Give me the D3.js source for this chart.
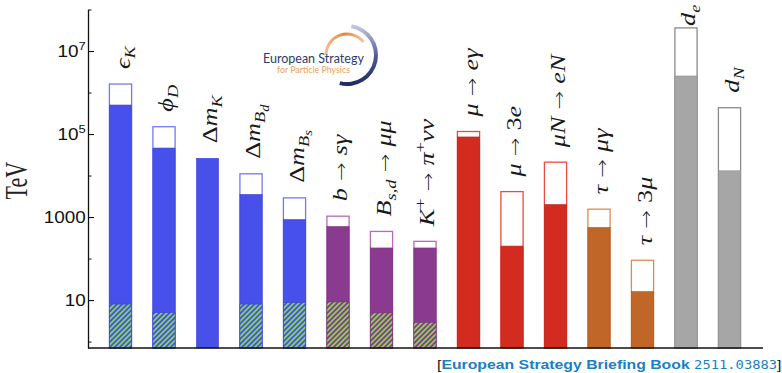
<!DOCTYPE html>
<html>
<head>
<meta charset="utf-8">
<script src="https://cdn.jsdelivr.net/npm/d3@7"></script>
<style>
  body { margin: 0; background: #fff; }
  svg { display: block; }
</style>
</head>
<body>
<div id="chart"></div>
<script>
// processes, left to right. each label is a list of [text, level, style]
// style: i = italic, r = roman, a = arrow
const AR = [" \u2192 ", "b", "a"];
const processes = [
  [["\u03F5", "b", "i"], ["K", "sub", "i"]],
  [["\u03D5", "b", "i"], ["D", "sub", "i"]],
  [["\u0394", "b", "r"], ["m", "b", "i"], ["K", "sub", "i"]],
  [["\u0394", "b", "r"], ["m", "b", "i"], ["B", "sub", "i"], ["d", "sub2", "i"]],
  [["\u0394", "b", "r"], ["m", "b", "i"], ["B", "sub", "i"], ["s", "sub2", "i"]],
  [["b", "b", "i"], AR, ["s\u03B3", "b", "i"]],
  [["B", "b", "i"], ["s,d", "sub", "i"], AR, ["\u03BC\u03BC", "b", "i"]],
  [["K", "b", "i"], ["+", "sup", "r"], AR, ["\u03C0", "b", "i"], ["+", "sup", "r"], ["\u03BD\u03BD", "b", "i"]],
  [["\u03BC", "b", "i"], AR, ["e\u03B3", "b", "i"]],
  [["\u03BC", "b", "i"], AR, ["3", "b", "r"], ["e", "b", "i"]],
  [["\u03BCN", "b", "i"], AR, ["eN", "b", "i"]],
  [["\u03C4", "b", "i"], AR, ["\u03BC\u03B3", "b", "i"]],
  [["\u03C4", "b", "i"], AR, ["3", "b", "r"], ["\u03BC", "b", "i"]],
  [["d", "b", "i"], ["e", "sub", "i"]],
  [["d", "b", "i"], ["N", "sub", "i"]]
];

const sector = ["K", "K", "K", "K", "K", "B", "B", "B", "mu", "mu", "mu", "tau", "tau", "edm", "edm"];

// scale probed in TeV: future reach (open box), present reach (filled), SM-like part (hatched)
const reachFuture = [1.6e6, 1.5e5, null, 1.1e4, 2.9e3, 1050, 450, 260, 1.15e5, 4100, 2.1e4, 1550, 91, 3.6e7, 4.3e5];
const reachNow    = [5e5, 4.6e4, 2.6e4, 3.5e3, 870, 590, 180, 180, 8.5e4, 200, 2000, 560, 16, 2.5e6, 1.3e4];
const reachSM     = [8, 5, null, 8, 8.7, 9, 4.9, 2.9, null, null, null, null, null, null, null];

const majorTicks = [10, 1000, 1e5, 1e7];
const majorTickLabels = [["10"], ["1000"], ["10", "5"], ["10", "7"]];
const minorTicks = [1, 100, 1e4, 1e6, 1e8];

const fillColor = { K: "#4850ec", B: "#8a3b90", mu: "#d42b20", tau: "#bf6628", edm: "#a6a6a6" };
const edgeColor = { K: "#7279f4", B: "#b36cb7", mu: "#ee4a3e", tau: "#d98d55", edm: "#8a8a8a" };

const W = 782, H = 373;
const mLeft = 88, mBottom = 348, mTop = 9.5, mRight = 763;

const svg = d3.select("#chart").append("svg")
  .attr("width", W)
  .attr("height", H);

const defs = svg.append("defs");

// hatch fill for the SM part of the bars
["K", "B"].forEach(s => {
  const p = defs.append("pattern")
    .attr("id", "hatch-" + s)
    .attr("patternUnits", "userSpaceOnUse")
    .attr("width", 3.6)
    .attr("height", 3.6)
    .attr("patternTransform", "rotate(45)");
  p.append("rect").attr("width", 3.6).attr("height", 3.6).attr("fill", fillColor[s]);
  p.append("rect")
    .attr("x", 0).attr("y", 0)
    .attr("width", 1.7).attr("height", 3.6)
    .attr("fill", "#84dc4c");
});

const x = d3.scaleBand()
  .domain(d3.range(processes.length))
  .range([98.75, 751.25])
  .paddingInner(0.49)
  .paddingOuter(0.245);

const y = d3.scaleLog()
  .domain([0.7, 1e8])
  .range([mBottom, mTop]);

// bars
const bars = svg.append("g").selectAll("g")
  .data(d3.range(processes.length))
  .enter()
  .append("g");

bars.filter(i => reachFuture[i] != null)
  .append("rect")
  .attr("x", i => x(i))
  .attr("y", i => y(reachFuture[i]))
  .attr("width", x.bandwidth())
  .attr("height", i => mBottom - y(reachFuture[i]))
  .attr("fill", "#fff")
  .attr("stroke", i => edgeColor[sector[i]])
  .attr("stroke-width", 1.3);

bars.append("rect")
  .attr("x", i => x(i))
  .attr("y", i => y(reachNow[i]))
  .attr("width", x.bandwidth())
  .attr("height", i => mBottom - y(reachNow[i]))
  .attr("fill", i => fillColor[sector[i]])
  .attr("stroke", i => d3.color(fillColor[sector[i]]).darker(0.4))
  .attr("stroke-width", 0.6);

bars.filter(i => reachSM[i] != null)
  .append("rect")
  .attr("x", i => x(i))
  .attr("y", i => y(reachSM[i]))
  .attr("width", x.bandwidth())
  .attr("height", i => mBottom - y(reachSM[i]))
  .attr("fill", i => "url(#hatch-" + sector[i] + ")")
  .attr("stroke", i => d3.color(fillColor[sector[i]]).darker(0.4))
  .attr("stroke-width", 0.6);

// rotated math labels above bars
const levels = {
  b:    { size: 1,    shift: 0 },
  sub:  { size: 0.7,  shift: 0.25 },
  sub2: { size: 0.55, shift: 0.42 },
  sup:  { size: 0.7,  shift: -0.42 }
};
const labelSize = 21;

bars.each(function (i) {
  const topVal = reachFuture[i] != null ? reachFuture[i] : reachNow[i];
  const cx = x(i) + x.bandwidth() / 2 + 9;
  const cy = Math.max(y(topVal) - 15, 26);
  const t = d3.select(this).append("text")
    .attr("transform", "translate(" + cx + "," + cy + ") rotate(-90) scale(1.25,1)")
    .attr("font-family", "'Liberation Serif', 'DejaVu Serif', serif")
    .attr("font-size", labelSize)
    .attr("fill", "#1a1a1a");
  let cur = 0;
  processes[i].forEach(part => {
    const lv = levels[part[1]];
    const target = lv.shift * labelSize;
    const ts = t.append("tspan")
      .attr("dy", target - cur)
      .attr("font-size", labelSize * lv.size)
      .attr("font-style", part[2] === "i" ? "italic" : "normal")
      .style("white-space", "pre")
      .text(part[0]);
    if (part[2] === "a") {
      ts.attr("font-family", "'DejaVu Sans', sans-serif")
        .attr("font-weight", 200)
        .attr("font-size", labelSize * 0.85);
    }
    cur = target;
  });
});

// axes
const yMinor = d3.axisLeft(y)
  .tickValues(minorTicks)
  .tickSizeInner(-3.5)
  .tickSizeOuter(0)
  .tickFormat("");

const yMajor = d3.axisLeft(y)
  .tickValues(majorTicks)
  .tickSizeInner(-6)
  .tickSizeOuter(0)
  .tickPadding(2)
  .tickFormat("");

svg.append("g")
  .attr("transform", "translate(" + mLeft + ",0)")
  .call(yMinor)
  .call(g => g.select(".domain").attr("stroke", "#111").attr("stroke-width", 1.3));

const gMajor = svg.append("g")
  .attr("transform", "translate(" + mLeft + ",0)")
  .call(yMajor);
gMajor.select(".domain").remove();
gMajor.selectAll(".tick line").attr("stroke", "#111").attr("stroke-width", 1.1);
svg.selectAll(".tick line").attr("stroke", "#111");

gMajor.selectAll(".tick text")
  .attr("font-family", "'Liberation Sans', Arial, sans-serif")
  .attr("font-size", 16)
  .attr("fill", "#111")
  .attr("dy", "0.36em")
  .attr("transform", "scale(1.18,1)")
  .each(function (d, k) {
    const lab = majorTickLabels[k];
    const t = d3.select(this);
    t.append("tspan").text(lab[0]);
    if (lab[1]) {
      t.append("tspan").attr("font-size", 11).attr("dy", "-0.65em").text(lab[1]);
    }
  });

svg.append("line")
  .attr("x1", mLeft).attr("x2", mRight)
  .attr("y1", mBottom).attr("y2", mBottom)
  .attr("stroke", "#111")
  .attr("stroke-width", 1.3);

// y title
svg.append("text")
  .attr("transform", "translate(27," + ((mTop + mBottom) / 2 + 2) + ") scale(1.4,1) rotate(-90)")
  .attr("text-anchor", "middle")
  .attr("font-family", "'Liberation Serif', serif")
  .attr("font-size", 22)
  .attr("fill", "#222")
  .text("TeV");

// logo
const logo = svg.append("g").attr("transform", "translate(347,55)");
const navyGrad = defs.append("linearGradient")
  .attr("id", "navy").attr("x1", 0).attr("y1", 0).attr("x2", 0).attr("y2", 1);
navyGrad.append("stop").attr("offset", "0%").attr("stop-color", "#c9cee3");
navyGrad.append("stop").attr("offset", "55%").attr("stop-color", "#4a5590");
navyGrad.append("stop").attr("offset", "100%").attr("stop-color", "#1e2a5e");
const orangeGrad = defs.append("linearGradient")
  .attr("id", "orange").attr("x1", 0).attr("y1", 0).attr("x2", 1).attr("y2", 0);
orangeGrad.append("stop").attr("offset", "0%").attr("stop-color", "#f3c196");
orangeGrad.append("stop").attr("offset", "50%").attr("stop-color", "#e8853a");
orangeGrad.append("stop").attr("offset", "100%").attr("stop-color", "#f4c9a4");

logo.append("path")
  .attr("d", d3.arc()({ innerRadius: 27, outerRadius: 31, startAngle: 0.15, endAngle: Math.PI * 1.08 }))
  .attr("fill", "url(#navy)");
logo.append("path")
  .attr("d", d3.arc()({ innerRadius: 19.5, outerRadius: 22.5, startAngle: -Math.PI / 2, endAngle: 0.9 }))
  .attr("fill", "url(#orange)");

svg.append("text")
  .attr("x", 263).attr("y", 62.5)
  .attr("font-family", "Lato, 'Open Sans', sans-serif")
  .attr("font-size", 12.5)
  .attr("fill", "#2d3b6c")
  .text("European Strategy");
svg.append("text")
  .attr("x", 277).attr("y", 73)
  .attr("font-family", "Lato, 'Open Sans', sans-serif")
  .attr("font-size", 8.8)
  .attr("fill", "#ee9e62")
  .text("for Particle Physics");

// reference
const ref = svg.append("text")
  .attr("transform", "translate(437,368.5) scale(1.17,1)")
  .attr("font-size", 13.5)
  .attr("fill", "#1a7fc6");
ref.append("tspan").attr("fill", "#111").attr("font-family", "'Liberation Sans', sans-serif").text("[");
ref.append("tspan").attr("font-family", "'Liberation Sans', Arial, sans-serif").attr("font-weight", "bold").text("European Strategy Briefing Book ");
ref.append("tspan").attr("font-family", "'DejaVu Sans Mono', monospace").attr("font-size", 11.8).text("2511.03883");
ref.append("tspan").attr("fill", "#111").attr("font-family", "'Liberation Sans', sans-serif").text("]");
</script>
</body>
</html>
